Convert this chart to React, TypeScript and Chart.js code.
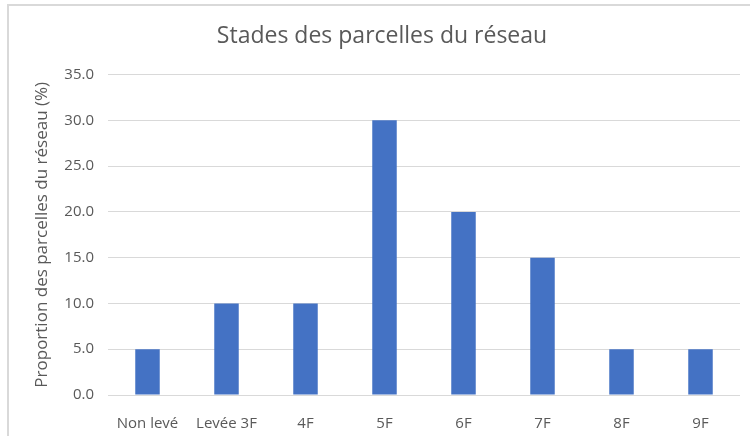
import React, { useEffect, useRef } from "react";
import { Chart, registerables } from "chart.js";

Chart.register(...registerables);

const categories = ["Non levé", "Levée 3F", "4F", "5F", "6F", "7F", "8F", "9F"];
const values = [5, 10, 10, 30, 20, 15, 5, 5];
const titleText = "Stades des parcelles du réseau";
const yTitle = "Proportion des parcelles du réseau (%)";

const FONT = "'Open Sans', Lato, sans-serif";
const TEXT = "#595959";

export default function App() {
  const ref = useRef<HTMLCanvasElement | null>(null);

  useEffect(() => {
    if (!ref.current) return;
    const chart = new Chart(ref.current, {
      type: "bar",
      data: {
        labels: categories,
        datasets: [
          {
            data: values,
            backgroundColor: "#4472C4",
            borderWidth: 0,
            barPercentage: 1,
            categoryPercentage: 0.31,
          },
        ],
      },
      options: {
        animation: false,
        responsive: false,
        maintainAspectRatio: false,
        layout: { padding: { left: 24, right: 10, top: 0, bottom: 0 } },
        plugins: {
          legend: { display: false },
          tooltip: { enabled: false },
          title: {
            display: true,
            text: titleText,
            color: TEXT,
            font: { family: FONT, size: 23, weight: "normal" },
            padding: { top: 23, bottom: 24 },
          },
        },
        scales: {
          x: {
            grid: { display: false },
            border: { display: false },
            ticks: {
              color: TEXT,
              font: { family: FONT, size: 15 },
              padding: 12,
              maxRotation: 0,
              autoSkip: false,
            },
            afterFit: (s: any) => {
              s.height = 41;
            },
          },
          y: {
            min: 0,
            max: 35,
            grid: { color: "#d9d9d9", lineWidth: 1, drawTicks: false },
            border: { display: false },
            ticks: {
              stepSize: 5,
              color: TEXT,
              font: { family: FONT, size: 15 },
              padding: 14,
              callback: (v: any) => Number(v).toFixed(1),
            },
            title: {
              display: true,
              text: yTitle,
              color: TEXT,
              font: { family: FONT, size: 17 },
              padding: { top: 8, bottom: 0 },
            },
            afterFit: (s: any) => {
              s.width = 84;
            },
          },
        },
      },
    });
    return () => chart.destroy();
  }, []);

  return (
    <div
      style={{
        position: "fixed",
        left: 0,
        top: 0,
        width: 750,
        height: 436,
        overflow: "hidden",
        background: "#fff",
      }}
    >
      <div
        style={{
          position: "absolute",
          left: 7,
          top: 4,
          width: 800,
          height: 500,
          border: "2px solid #d9d9d9",
          boxSizing: "border-box",
        }}
      />
      <canvas
        ref={ref}
        width={750}
        height={436}
        style={{ position: "absolute", left: 0, top: 0, width: 750, height: 436 }}
      />
    </div>
  );
}
